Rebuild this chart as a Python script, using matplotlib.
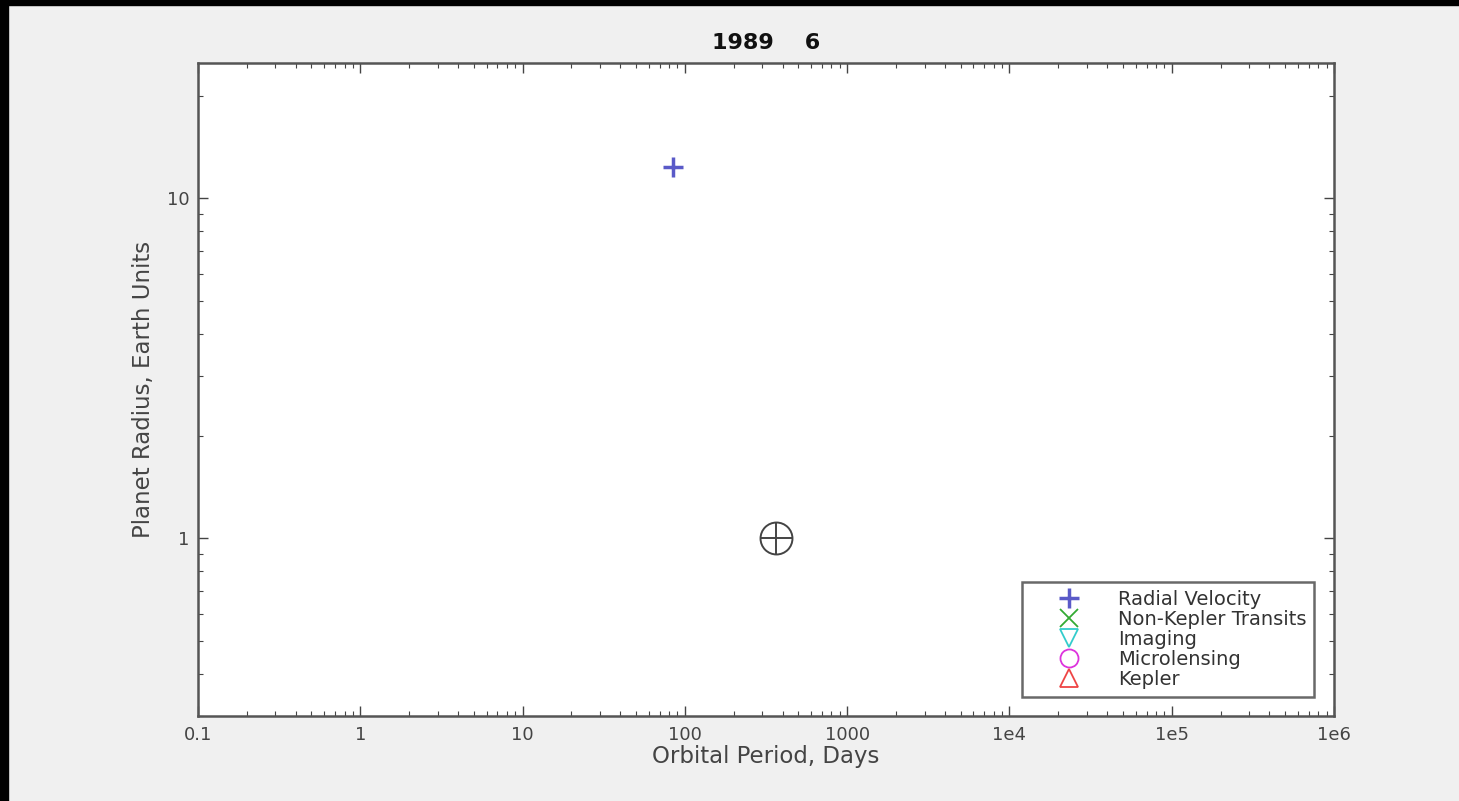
import numpy as np
import matplotlib.pyplot as plt
from matplotlib.patches import Rectangle

# data
title = "1989    6"
rv_period = [84.0]
rv_radius = [12.4]
earth_period = [365.0]
earth_radius = [1.0]
xticks = [0.1, 1, 10, 100, 1000, 1e4, 1e5, 1e6]
xticklabels = ["0.1", "1", "10", "100", "1000", "1e4", "1e5", "1e6"]
yticks = [1, 10]
yticklabels = ["1", "10"]

bg = "#f0f0f0"
fig = plt.figure(figsize=(14.59, 8.01), dpi=100, facecolor=bg)
# black frame strips at top and left
fig.patches.append(Rectangle((0, 1 - 5 / 801), 1, 5 / 801, transform=fig.transFigure,
                             color="black", zorder=10))
fig.patches.append(Rectangle((0, 0), 8 / 1459, 1, transform=fig.transFigure,
                             color="black", zorder=10))

ax = fig.add_axes([0.1357, 0.1061, 0.7786, 0.8152])
ax.set_facecolor("white")
ax.set_xscale("log")
ax.set_yscale("log")
ax.set_xlim(0.1, 1e6)
ax.set_ylim(0.3, 25)

ax.plot(rv_period, rv_radius, "+", color="#5a5ac8", ms=14, mew=2.5, label="Radial Velocity")
ax.plot([], [], "x", color="#33aa33", ms=13, mew=1.3, label="Non-Kepler Transits")
ax.plot([], [], "v", color="#33cccc", mfc="none", ms=13, mew=1.3, label="Imaging")
ax.plot([], [], "o", color="#dd33dd", mfc="none", ms=13, mew=1.3, label="Microlensing")
ax.plot([], [], "^", color="#ee4444", mfc="none", ms=13, mew=1.3, label="Kepler")

# Earth symbol
ax.plot(earth_period, earth_radius, "o", mfc="none", mec="#444444", ms=23, mew=1.4)
ax.plot(earth_period, earth_radius, "+", color="#444444", ms=23, mew=1.4)

ax.set_xticks(xticks)
ax.set_xticklabels(xticklabels)
ax.set_yticks(yticks)
ax.set_yticklabels(yticklabels)
ax.tick_params(which="both", direction="in", top=True, right=True, colors="#444444",
               labelsize=13, labelcolor="#444444")
ax.tick_params(axis="x", pad=7)
ax.tick_params(axis="y", pad=6)
ax.tick_params(which="major", length=7, width=1)
ax.tick_params(which="minor", length=3.5, width=0.8)
for s in ax.spines.values():
    s.set_color("#555555")
    s.set_linewidth(1.8)

ax.set_xlabel("Orbital Period, Days", fontsize=16.5, color="#444444", labelpad=1)
ax.set_ylabel("Planet Radius, Earth Units", fontsize=16.5, color="#444444", labelpad=9)
ax.set_title(title, fontsize=16, fontweight="bold", pad=10, color="#111111")

leg = ax.legend(loc="lower right", bbox_to_anchor=(0.9824, 0.029), borderaxespad=0,
                fontsize=14, labelspacing=0.06, handletextpad=0.5, handlelength=4.0,
                fancybox=False, frameon=True, borderpad=0.4)
leg.get_frame().set_edgecolor("#444444")
leg.get_frame().set_linewidth(1.8)
for t in leg.get_texts():
    t.set_color("#333333")

fig.savefig("out.png", dpi=100, facecolor=bg)
